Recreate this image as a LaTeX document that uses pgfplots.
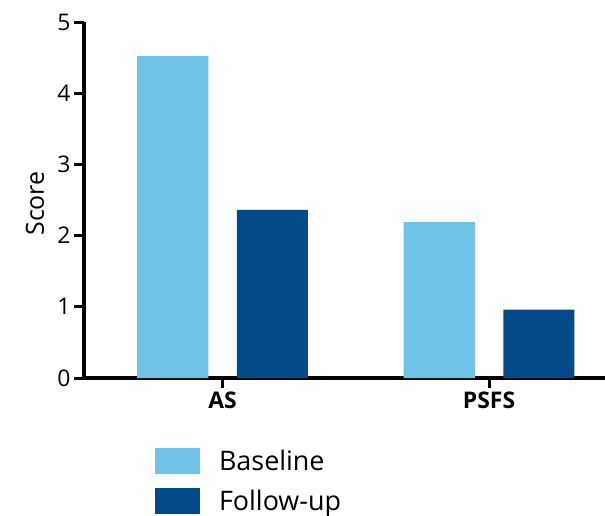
\documentclass[border=0pt]{standalone}
\usepackage{pgfplots}
\pgfplotsset{compat=1.18}
\usepackage{fontspec}
\setmainfont{Open Sans}
\definecolor{baseC}{HTML}{6EC3E6}
\definecolor{fupC}{HTML}{024B88}
\begin{document}
\begin{tikzpicture}
\begin{axis}[
  scale only axis, width=521bp, height=356bp,
  xmin=-0.52, xmax=1.435, ymin=0, ymax=5,
  enlargelimits=false,
  axis x line*=bottom, axis y line*=left,
  axis line style={line width=3.5bp, black},
  xtick={0,1}, xticklabels={\textbf{AS},\textbf{PSFS}},
  ytick={0,1,2,3,4,5},
  tick align=outside, major tick length=10bp,
  tick style={line width=3bp, black},
  every tick label/.append style={font=\fontsize{23}{27}\selectfont},
  /pgf/number format/assume math mode=true,
  ylabel={\fontsize{25}{29}\selectfont Score},
  ylabel style={at={(axis description cs:-0.094,0.49)}, anchor=center},
  ybar=0pt, bar width=0.267,
  legend style={at={(axis description cs:0.136,-0.197)}, anchor=north west,
    draw=none, fill=none, font=\fontsize{27}{31}\selectfont, row sep=14bp, inner sep=0pt,
    /tikz/every odd column/.append style={column sep=17bp}},
  legend cell align=left,
  legend image code/.code={\fill[#1] (0bp,-13bp) rectangle (45bp,13bp);},
]
\addplot[fill=baseC, draw=none, bar shift=-0.187] coordinates {(0,4.52) (1,2.19)};
\addplot[fill=fupC, draw=none, bar shift=0.187] coordinates {(0,2.36) (1,0.96)};
\legend{Baseline, Follow-up}
\end{axis}
\pgfresetboundingbox
\path[use as bounding box] (-84bp,-138bp) rectangle (521bp,378bp);
\end{tikzpicture}
\end{document}
